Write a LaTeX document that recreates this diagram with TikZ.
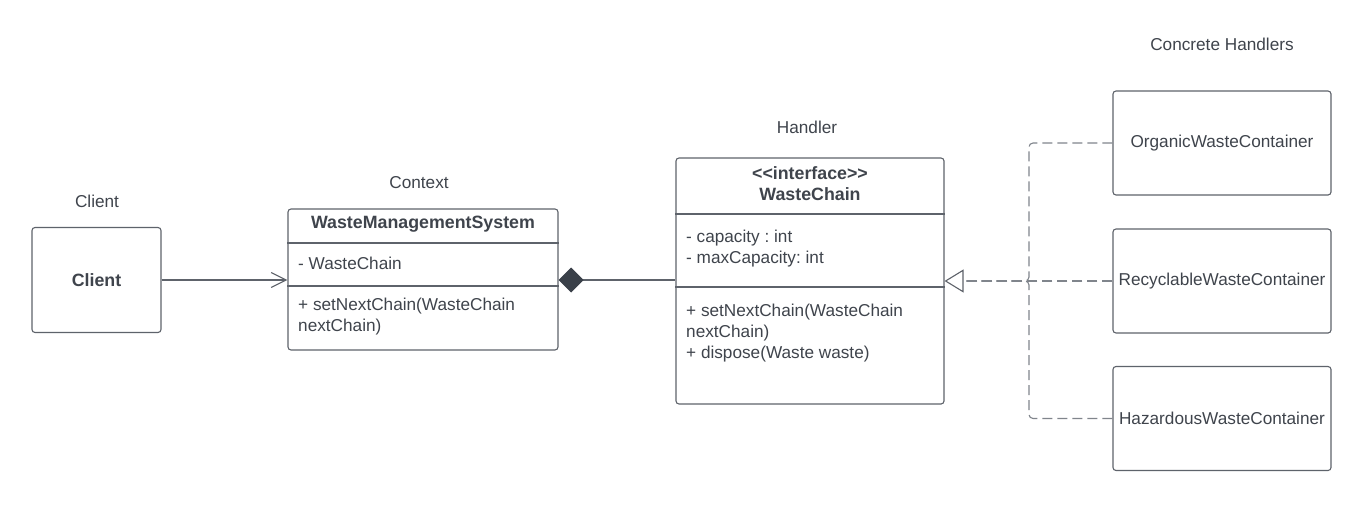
\documentclass[tikz,border=0pt]{standalone}
\usepackage{fontspec}
\setmainfont{Liberation Sans}
\usetikzlibrary{arrows.meta}
\frenchspacing
\definecolor{txt}{HTML}{3F444C}
\definecolor{edge}{HTML}{5E636B}
\definecolor{dashc}{HTML}{80858C}
\definecolor{dia}{HTML}{3A4049}
\tikzset{
  fnt/.style={font=\fontsize{17.2}{21}\selectfont, text=txt},
  bfnt/.style={font=\fontsize{17.8}{21}\selectfont\bfseries, text=txt},
  box/.style={draw=edge, line width=1.1pt, rounded corners=3pt, fill=white, inner sep=0pt, fnt},
  lbl/.style={fnt, inner sep=0pt},
  attr/.style={fnt, inner sep=0pt, anchor=west, align=left},
  divider/.style={draw=edge, line width=1.1pt},
  assoc/.style={draw=edge, line width=1.1pt, -{Straight Barb[length=15pt,width=15pt,line width=1.1pt]}},
  comp/.style={draw=edge, line width=1.1pt, {Diamond[length=25pt,width=25pt,fill=dia,color=dia]}-},
  realz/.style={draw=dashc, line width=1.1pt, dash pattern=on 10pt off 5pt},
  realtip/.style={realz, -{Triangle[open,length=19pt,width=23pt,line width=1.1pt,fill=white,color=edge]}},
}
\begin{document}
\begin{tikzpicture}[x=1pt,y=-1pt]
\useasboundingbox (0,0) rectangle (1371,522);
\fill[white] (0,0) rectangle (1371,522);

% labels
\node[lbl] (lclient) at (97,201) {Client};
\node[lbl] (lcontext) at (419,183) {Context};
\node[lbl] (lhandler) at (807,127) {Handler};
\node[lbl] (lconcrete) at (1222,44) {Concrete Handlers};

% Client
\node[box, minimum width=129pt, minimum height=105pt, bfnt] (client) at (96.5,280) {Client};

% WasteManagementSystem
\node[box, minimum width=270pt, minimum height=141pt] (wms) at (423,279.5) {};
\draw[divider] (wms.west |- 0,243) -- (wms.east |- 0,243);
\draw[divider] (wms.west |- 0,286) -- (wms.east |- 0,286);
\node[lbl, bfnt] (wmstitle) at (423,224) {WasteManagementSystem};
\node[attr] (wmsattr) at (298,263) {- WasteChain};
\node[attr] (wmsmeth) at (298,316.5) {+ setNextChain(WasteChain\\nextChain)};

% WasteChain
\node[box, minimum width=268pt, minimum height=246pt] (wc) at (810,281) {};
\draw[divider] (wc.west |- 0,214) -- (wc.east |- 0,214);
\draw[divider] (wc.west |- 0,287) -- (wc.east |- 0,287);
\node[lbl, bfnt, align=center] (wctitle) at (810,183.5) {{<}{<}interface{>}{>}\\WasteChain};
\node[attr] (wcattr) at (686,248.5) {- capacity : int\\- maxCapacity: int};
\node[attr] (wcmeth) at (686,333) {+ setNextChain(WasteChain\\nextChain)\\+ dispose(Waste waste)};

% Concrete handlers
\node[box, minimum width=218pt, minimum height=104pt] (org) at (1222,143) {OrganicWasteContainer};
\node[box, minimum width=218pt, minimum height=104pt] (rec) at (1222,281) {RecyclableWasteContainer};
\node[box, minimum width=218pt, minimum height=104pt] (haz) at (1222,418.5) {HazardousWasteContainer};

% connectors
\draw[assoc] (client.east) -- (wms.west |- client.east);
\draw[comp] (wms.east |- 0,280) -- (wc.west |- 0,280);

\coordinate (jn) at (1029,281);
\coordinate (tb) at (963,281);
\draw[realz, rounded corners=4pt] (org.west) -| (jn) -- (tb);
\draw[realz, rounded corners=4pt] (haz.west) -| (jn) -- (tb);
\draw[realtip] (rec.west) -- (wc.east |- rec.west);
\end{tikzpicture}
\end{document}
